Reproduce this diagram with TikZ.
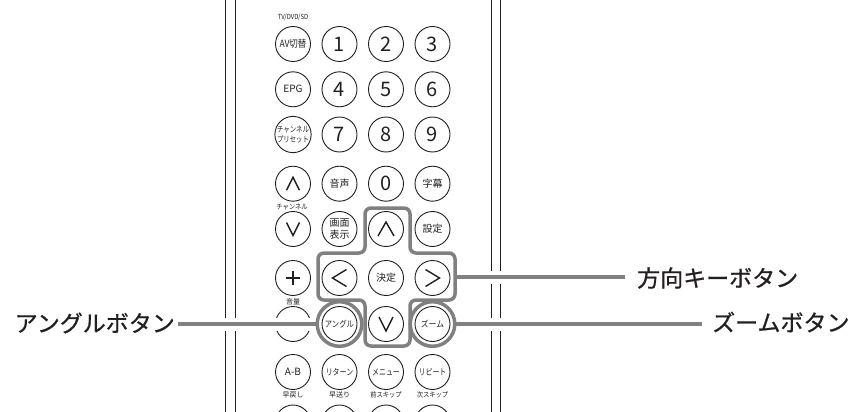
\documentclass[tikz,border=0pt]{standalone}
\usepackage{fontspec}
\usepackage{graphicx}
\setmainfont{Noto Sans CJK JP}
\newfontfamily\jpbig{Noto Sans CJK JP}[FakeBold=0.8]
\definecolor{callgray}{RGB}{128,128,128}
\definecolor{ink}{RGB}{35,31,32}
\begin{document}
\begin{tikzpicture}[x=1pt,y=-1pt,
  btn/.style={circle,draw=ink,line width=0.9pt,minimum size=35pt,inner sep=0pt,text=ink,align=center},
  ringbtn/.style={circle,draw=callgray,line width=3.5pt,minimum size=44.6pt,inner sep=0pt},
  chev/.style={draw=ink,line width=1.4pt,line join=miter},
  callout/.style={draw=callgray,line width=3.5pt,preaction={draw=white,line width=13pt}},
  bigtxt/.style={font=\jpbig\fontsize{23}{23}\selectfont,text=ink,inner sep=0pt},
  tinytxt/.style={font=\fontsize{7}{7.5}\selectfont,text=ink,inner sep=0pt},
  numf/.style={font=\fontsize{20}{20}\selectfont},
  smf/.style={font=\fontsize{10}{10}\selectfont},
  xsf/.style={font=\fontsize{8.7}{9}\selectfont},
  remote/.style={draw=ink,line width=0.9pt}]
\useasboundingbox (0,0) rectangle (852,412);
\clip (0,0) rectangle (852,412);
% remote body edges
\draw[remote] (225,0) -- (225,412);
\draw[remote] (235,0) -- (235,412);
\draw[remote] (491,0) -- (491,412);
\draw[remote] (500,0) -- (500,412);
% small labels
\node[tinytxt] (tvlab) at (293,17) {\scalebox{0.85}[1]{TV/DVD/SD}};
\node[tinytxt] (chlab) at (292,207) {\scalebox{0.9}[1]{チャンネル}};
\node[tinytxt] (vollab) at (293,302) {音量};
\node[tinytxt] (l91) at (293,395) {早戻し};
\node[tinytxt] (l92) at (339.5,395) {早送り};
\node[tinytxt] (l93) at (386,395) {\scalebox{0.9}[1]{前スキップ}};
\node[tinytxt] (l94) at (432.5,395) {\scalebox{0.9}[1]{次スキップ}};
% row 1
\node[btn,smf] (av) at (293,44) {\scalebox{0.85}[1]{AV切替}};
\node[btn,numf] (n1) at (339.5,44) {1};
\node[btn,numf] (n2) at (386,44) {2};
\node[btn,numf] (n3) at (432.5,44) {3};
% row 2
\node[btn,smf] (epg) at (293,89.3) {EPG};
\node[btn,numf] (n4) at (339.5,89.3) {4};
\node[btn,numf] (n5) at (386,89.3) {5};
\node[btn,numf] (n6) at (432.5,89.3) {6};
% row 3
\node[btn,font=\fontsize{8}{10}\selectfont] (preset) at (293,134.5) {\scalebox{0.8}[1]{チャンネル}\\\scalebox{0.8}[1]{プリセット}};
\node[btn,numf] (n7) at (339.5,134.5) {7};
\node[btn,numf] (n8) at (386,134.5) {8};
\node[btn,numf] (n9) at (432.5,134.5) {9};
% row 4
\node[btn] (chup) at (293,183.7) {};
\node[btn,smf] (audio) at (339.5,183.7) {音声};
\node[btn,numf] (n0) at (386,183.7) {0};
\node[btn,smf] (subt) at (432.5,183.7) {字幕};
% row 5
\node[btn] (chdn) at (293,229) {};
\node[btn,font=\fontsize{10}{12}\selectfont] (disp) at (339.5,229) {画面\\表示};
\node[btn] (up) at (386,229) {};
\node[btn,smf] (setting) at (432.5,229) {設定};
% row 6
\node[btn] (volup) at (293,278) {};
\node[btn] (left) at (339.5,278) {};
\node[btn,smf] (enter) at (386,278) {決定};
\node[btn] (right) at (432.5,278) {};
% row 7
\node[btn] (voldn) at (293,324) {};
\node[btn,xsf] (angle) at (339.5,324) {\scalebox{0.85}[1]{アングル}};
\node[btn] (down) at (386,324) {};
\node[btn,xsf] (zoom) at (432.5,324) {\scalebox{0.9}[1]{ズーム}};
% row 8
\node[btn,font=\fontsize{10}{10}\selectfont] (ab) at (293,372) {A-B};
\node[btn,xsf] (ret) at (339.5,372) {\scalebox{0.8}[1]{リターン}};
\node[btn,xsf] (menu) at (386,372) {\scalebox{0.8}[1]{メニュー}};
\node[btn,xsf] (rep) at (432.5,372) {\scalebox{0.8}[1]{リピート}};
% row 9 (cut off)
\node[btn] (rw) at (293,422.5) {};
\node[btn] (ff) at (339.5,422.5) {};
\node[btn] (prev) at (386,422.5) {};
\node[btn] (next) at (432.5,422.5) {};
% symbols
\draw[chev] ([shift={(-6.5,6.5)}]chup.center) -- ([shift={(0,-6.5)}]chup.center) -- ([shift={(6.5,6.5)}]chup.center);
\draw[chev] ([shift={(-6.5,-6.5)}]chdn.center) -- ([shift={(0,6.5)}]chdn.center) -- ([shift={(6.5,-6.5)}]chdn.center);
\draw[chev] ([shift={(-8,7)}]up.center) -- ([shift={(0,-7)}]up.center) -- ([shift={(8,7)}]up.center);
\draw[chev] ([shift={(-7,-7)}]down.center) -- ([shift={(0,7)}]down.center) -- ([shift={(7,-7)}]down.center);
\draw[chev] ([shift={(7,-8.5)}]left.center) -- ([shift={(-7,0)}]left.center) -- ([shift={(7,8.5)}]left.center);
\draw[chev] ([shift={(-7,-8.5)}]right.center) -- ([shift={(7,0)}]right.center) -- ([shift={(-7,8.5)}]right.center);
\draw[chev] ([shift={(-7,0)}]volup.center) -- ([shift={(7,0)}]volup.center);
\draw[chev] ([shift={(0,-7)}]volup.center) -- ([shift={(0,7)}]volup.center);
% callout labels
\node[bigtxt,anchor=east,inner xsep=3pt] (anglab) at (178,323) {アングルボタン};
\node[bigtxt,anchor=west] (dirlab) at (637,278) {方向キーボタン};
\node[bigtxt,anchor=west] (zoomlab) at (712,322) {ズームボタン};
\coordinate (crossR) at (455,277);
% callout lines (drawn with white halo)
\draw[callout] (anglab.east |- 0,324) -- (317.2,324);
\draw[callout] (crossR) -- (crossR -| dirlab.west) [shorten >=12pt];
\draw[callout] (455,324) -- (702,324);
% direction key outline and rings
\draw[callgray,line width=3.5pt,rounded corners=6pt]
  (318,253) -- (365,253) -- (365,208) -- (410,208) -- (410,253) -- (455,253)
  -- (455,300) -- (410,300) -- (410,346) -- (365,346) -- (365,300) -- (318,300) -- cycle;
\node[ringbtn] (angring) at (angle.center) {};
\node[ringbtn] (zoomring) at (zoom.center) {};
\end{tikzpicture}
\end{document}
